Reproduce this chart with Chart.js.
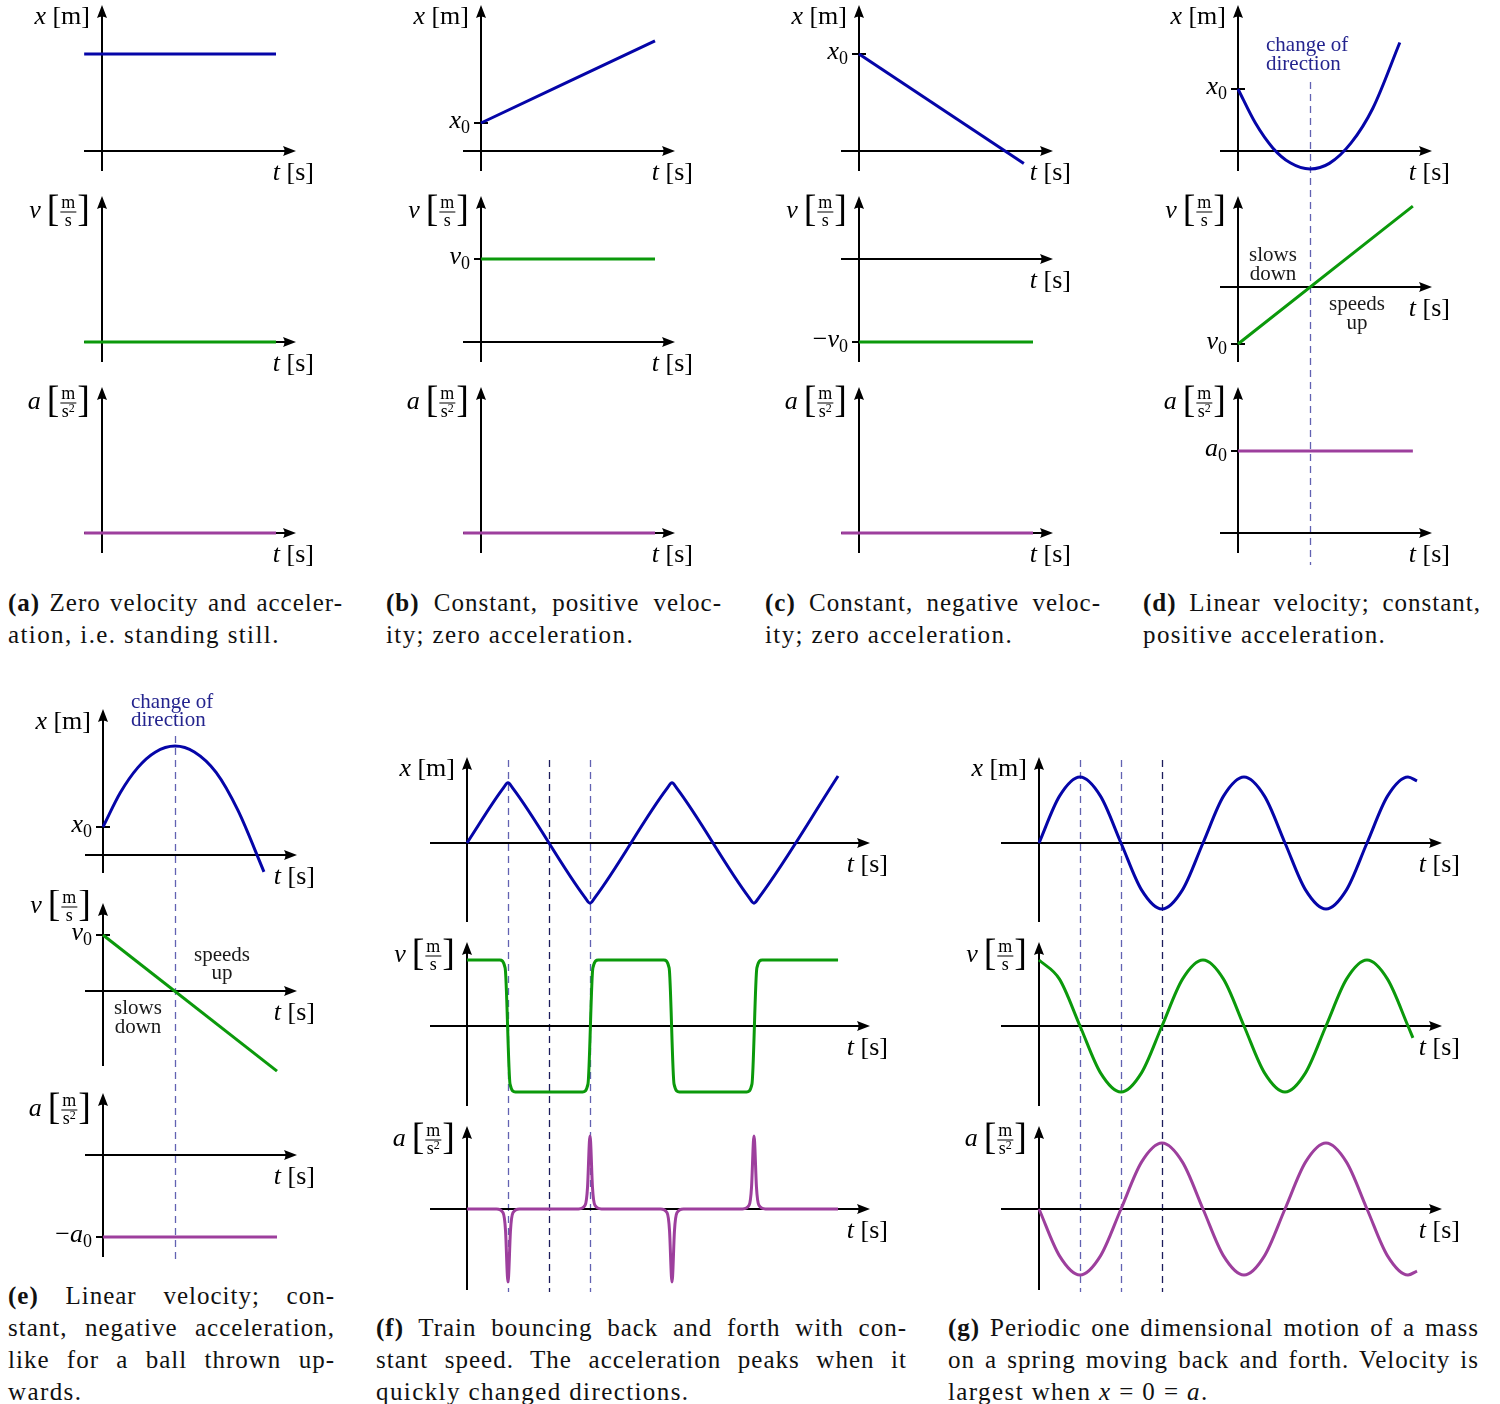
<!DOCTYPE html>
<html><head><meta charset="utf-8">
<script src="https://cdn.jsdelivr.net/npm/chart.js@4.4.1/dist/chart.umd.min.js"></script>
<style>
html,body{margin:0;padding:0;background:#fff;}
#page{position:relative;width:1500px;height:1404px;overflow:hidden;background:#fff;}
.cap{position:absolute;font-family:"Liberation Serif","Times New Roman",serif;font-size:25px;letter-spacing:1px;line-height:32px;color:#111;}
.cap div{text-align:justify;text-align-last:justify;}
.cap div.last{text-align:left;text-align-last:left;letter-spacing:1.4px;}
</style></head>
<body><div id="page"></div>
<script>
// ================= DATA =================
// (a) standing still
const tA = [-0.41, 4.0];
const xA = [1, 1];
const vA = [0, 0];
const aA = [0, 0];
// (b) constant positive velocity
const tBx = [0, 4.0];   const xB = [1, 3.93];
const tBv = [0, 4.0];   const vB = [1, 1];
const tBa = [-0.41, 4.0]; const aB = [0, 0];
// (c) constant negative velocity
const tCx = [0, 3.79];  const xC = [1, -0.13];
const tCv = [0, 4.0];   const vC = [-1, -1];
const tCa = [-0.41, 4.0]; const aC = [0, 0];
// (d) constant positive acceleration
const tDx = [0, 0.4, 0.8, 1.2, 1.655, 2.1, 2.6, 3.1, 3.72];
const xD  = [1, 0.45, 0.05, -0.19, -0.29, -0.2, 0.13, 0.69, 1.75];
const tDv = [0, 4.02];  const vD = [-1, 1.42];
const tDa = [0, 4.02];  const aD = [1, 1];
const dTurn = [1.655];
// (e) constant negative acceleration
const tEx = [0, 0.4, 0.8, 1.2, 1.655, 2.1, 2.6, 3.1, 3.7];
const xE  = [1, 2.23, 3.12, 3.67, 3.89, 3.68, 2.95, 1.6, -0.6];
const tEv = [0, 4.0];   const vE = [1, -1.43];
const tEa = [0, 4.0];   const aE = [-1, -1];
const eTurn = [1.655];
// (f) train bouncing back and forth
const tFx = [0, 0.88, 1, 1.12, 2.88, 3, 3.12, 4.88, 5, 5.12, 6.88, 7, 7.12, 9.05];
const xF  = [0, 0.88, 0.97, 0.88, -0.88, -0.97, -0.88, 0.88, 0.97, 0.88, -0.88, -0.97, -0.88, 1.08];
const tFv = [0, 0.8, 0.93, 1.05, 1.18, 2.82, 2.95, 3.07, 3.2, 4.8, 4.93, 5.05, 5.18, 6.82, 6.95, 7.07, 7.2, 9.05];
const vF  = [1, 1, 0.88, -0.88, -1, -1, -0.88, 0.88, 1, 1, 0.88, -0.88, -1, -1, -0.88, 0.88, 1, 1];
const tFa = [0, 0.72, 0.88, 0.94, 0.985, 1, 1.015, 1.06, 1.12, 1.28,
             2.72, 2.88, 2.94, 2.985, 3, 3.015, 3.06, 3.12, 3.28,
             4.72, 4.88, 4.94, 4.985, 5, 5.015, 5.06, 5.12, 5.28,
             6.72, 6.88, 6.94, 6.985, 7, 7.015, 7.06, 7.12, 7.28, 9.05];
const aF  = [0, 0, -0.05, -0.3, -0.92, -1, -0.92, -0.3, -0.05, 0,
             0, 0.05, 0.3, 0.92, 1, 0.92, 0.3, 0.05, 0,
             0, -0.05, -0.3, -0.92, -1, -0.92, -0.3, -0.05, 0,
             0, 0.05, 0.3, 0.92, 1, 0.92, 0.3, 0.05, 0, 0];
const fMarks = [1, 2, 3];
// (g) mass on a spring
const tGx = [0, 0.5, 1, 1.5, 2, 2.5, 3, 3.5, 4, 4.5, 5, 5.5, 6, 6.5, 7, 7.5, 8, 8.5, 9, 9.22];
const xG  = [0, 0.71, 1, 0.71, 0, -0.71, -1, -0.71, 0, 0.71, 1, 0.71, 0, -0.71, -1, -0.71, 0, 0.71, 1, 0.94];
const tGv = [0, 0.5, 1, 1.5, 2, 2.5, 3, 3.5, 4, 4.5, 5, 5.5, 6, 6.5, 7, 7.5, 8, 8.5, 9, 9.12];
const vG  = [1, 0.71, 0, -0.71, -1, -0.71, 0, 0.71, 1, 0.71, 0, -0.71, -1, -0.71, 0, 0.71, 1, 0.71, 0, -0.18];
const tGa = [0, 0.5, 1, 1.5, 2, 2.5, 3, 3.5, 4, 4.5, 5, 5.5, 6, 6.5, 7, 7.5, 8, 8.5, 9, 9.22];
const aG  = [0, -0.71, -1, -0.71, 0, 0.71, 1, 0.71, 0, -0.71, -1, -0.71, 0, 0.71, 1, 0.71, 0, -0.71, -1, -0.94];
const gMarks = [1, 2, 3];

// ================= STYLE =================
const FONT = '"Liberation Serif","Times New Roman",serif';
const BLUE = '#0505a8', GREEN = '#0b990b', PURPLE = '#9d3f9d';
const DASH = '#6262b2', DASHDARK = '#1c1c5c', DIRC = '#24248e';
const LS = 26;   // label font size
const page = document.getElementById('page');

function fz(sz, it){ return (it ? 'italic ' : '') + sz + 'px ' + FONT; }
function runs(c, parts, x, base, align){
  let w = 0;
  parts.forEach(p => { c.font = fz(p.sz || LS, p.it); p.w = c.measureText(p.s).width; w += p.w; });
  let cx = align === 'right' ? x - w : align === 'center' ? x - w / 2 : x;
  c.textAlign = 'left'; c.textBaseline = 'alphabetic';
  parts.forEach(p => { c.font = fz(p.sz || LS, p.it); c.fillText(p.s, cx, base + (p.dy || 0)); cx += p.w; });
}
function arrow(c, x, y, up){
  c.save(); c.translate(x, y); if (up) c.rotate(-Math.PI / 2);
  c.beginPath(); c.moveTo(0, 0); c.lineTo(-13, -5); c.quadraticCurveTo(-10, 0, -13, 5); c.closePath(); c.fill();
  c.restore();
}
function yLabel(c, k, right, cy){
  if (k === 'x'){ runs(c, [{s:'x', it:1}, {s:' [m]'}], right, cy + 7, 'right'); return; }
  const sq = k === 'a';
  c.font = fz(38); const wb = c.measureText('[').width;
  c.font = fz(18); const wm = c.measureText('m').width, ws = c.measureText('s').width;
  c.font = fz(12); const w2 = sq ? c.measureText('2').width : 0;
  const fw = Math.max(wm, ws + w2) + 2;
  c.font = fz(LS, 1); const wsym = c.measureText(k).width;
  const gap = 6;
  let x = right - (wsym + gap + wb + 1 + fw + 1 + wb);
  c.textAlign = 'left'; c.textBaseline = 'alphabetic';
  c.font = fz(LS, 1); c.fillText(k, x, cy + 6); x += wsym + gap;
  c.font = fz(38); c.fillText('[', x, cy + 9); x += wb + 1;
  c.fillRect(x, cy - 0.5, fw, 1);
  c.font = fz(18); c.fillText('m', x + (fw - wm) / 2, cy - 4);
  const dx = x + (fw - ws - w2) / 2;
  c.fillText('s', dx, cy + 14);
  if (sq){ c.font = fz(12); c.fillText('2', dx + ws, cy + 9); }
  x += fw + 1;
  c.font = fz(38); c.fillText(']', x, cy + 9);
}

let pid = 0;
function plot(cfg){
  const [L, T, W, H] = cfg.box;
  const cv = document.createElement('canvas');
  cv.width = W; cv.height = H;
  cv.style.cssText = `position:absolute;left:${L}px;top:${T}px;width:${W}px;height:${H}px;`;
  page.appendChild(cv);
  const xmin = (L - cfg.ox) / cfg.sx, xmax = (L + W - cfg.ox) / cfg.sx;
  const ymax = (cfg.oy - T) / cfg.sy, ymin = (cfg.oy - T - H) / cfg.sy;
  const ax = cfg.ax;
  const deco = {
    id: 'deco' + (pid++),
    beforeDatasetsDraw(chart){
      const c = chart.ctx, xs = chart.scales.x, ys = chart.scales.y;
      const X0 = xs.getPixelForValue(0), Y0 = ys.getPixelForValue(0);
      c.save();
      (cfg.dashes || []).forEach(d => {
        const px = Math.round(xs.getPixelForValue(d.t)) + 0.5;
        const a = Math.max(d.y0 - T, 0), b = Math.min(d.y1 - T, H);
        if (b <= a) return;
        c.beginPath(); c.setLineDash([7, 5]); c.lineDashOffset = Math.max(0, T - d.y0) % 12;
        c.strokeStyle = d.color; c.lineWidth = 1.3; c.moveTo(px, a); c.lineTo(px, b); c.stroke();
      });
      c.setLineDash([]);
      c.strokeStyle = '#000'; c.fillStyle = '#000'; c.lineWidth = 2;
      c.beginPath(); c.moveTo(ax.xl - L, Y0); c.lineTo(ax.xr - L - 9, Y0); c.stroke();
      arrow(c, ax.xr - L, Y0, 0);
      c.beginPath(); c.moveTo(X0, ax.yb - T); c.lineTo(X0, ax.yt - T + 9); c.stroke();
      arrow(c, X0, ax.yt - T, 1);
      (cfg.ticks || []).forEach(tk => {
        const yy = ys.getPixelForValue(tk.v);
        c.beginPath(); c.moveTo(X0 - 7, yy); c.lineTo(X0 + 7, yy); c.stroke();
      });
      c.restore();
    },
    afterDatasetsDraw(chart){
      const c = chart.ctx, xs = chart.scales.x, ys = chart.scales.y;
      const X0 = xs.getPixelForValue(0), Y0 = ys.getPixelForValue(0);
      c.save(); c.fillStyle = '#000';
      yLabel(c, cfg.ylab.k, X0 - 12, cfg.ylab.cy - T);
      runs(c, [{s:'t', it:1}, {s:' [s]'}], ax.xr - L + 18, Y0 + 22 + 7, 'right');
      (cfg.ticks || []).forEach(tk => {
        const yy = ys.getPixelForValue(tk.v);
        const parts = (tk.neg ? [{s:'\u2212'}] : []).concat([{s:tk.sym, it:1}, {s:'0', sz:18, dy:5}]);
        runs(c, parts, X0 - 11, yy + 5, 'right');
      });
      (cfg.notes || []).forEach(n => {
        c.fillStyle = n.color || '#1a1a1a';
        n.lines.forEach((s, i) => runs(c, [{s, sz:21}], n.x - L, n.y[i] - T + 6, n.align || 'center'));
      });
      c.restore();
    }
  };
  new Chart(cv, {
    type: 'line',
    data: { datasets: cfg.series.map(s => ({
      data: s.t.map((t, i) => ({x: t, y: s.v[i]})),
      borderColor: s.c, borderWidth: 3, pointRadius: 0, fill: false, clip: false,
      tension: 0, cubicInterpolationMode: 'monotone', borderJoinStyle: 'round'
    })) },
    options: {
      responsive: false, animation: false, devicePixelRatio: 1, events: [],
      layout: { padding: 0 },
      plugins: { legend: {display: false}, tooltip: {enabled: false}, title: {display: false} },
      scales: {
        x: { type: 'linear', min: xmin, max: xmax, display: false },
        y: { type: 'linear', min: ymin, max: ymax, display: false }
      }
    },
    plugins: [deco]
  });
}

// ================= LAYOUT =================
const SX = 43.5, SXF = 41;
const YL = [17, 212, 403];
function topBox(ox, k){ const L = ox - 102; return [L, 191 * k, Math.min(379, 1500 - L), 191]; }
function topAx(ox, k){ return {xl: ox - 18, xr: ox + 194, yt: 5 + 191 * k, yb: 171 + 191 * k}; }
const KEYS = ['x', 'v', 'a'];
function topPlot(ox, k, oy, sy, t, v, c, extra){
  plot(Object.assign({box: topBox(ox, k), ox, oy, sx: SX, sy, series: [{t, v, c}], ax: topAx(ox, k), ylab: {k: KEYS[k], cy: YL[k]}}, extra || {}));
}
// (a)
topPlot(102, 0, 151, 97, tA, xA, BLUE);
topPlot(102, 1, 342, 80, tA, vA, GREEN);
topPlot(102, 2, 533, 80, tA, aA, PURPLE);
// (b)
topPlot(481, 0, 151, 28, tBx, xB, BLUE, {ticks: [{v: 1, sym: 'x'}]});
topPlot(481, 1, 342, 83, tBv, vB, GREEN, {ticks: [{v: 1, sym: 'v'}]});
topPlot(481, 2, 533, 80, tBa, aB, PURPLE);
// (c)
topPlot(859, 0, 151, 97, tCx, xC, BLUE, {ticks: [{v: 1, sym: 'x'}]});
topPlot(859, 1, 259, 83, tCv, vC, GREEN, {ticks: [{v: -1, sym: 'v', neg: 1}]});
topPlot(859, 2, 533, 80, tCa, aC, PURPLE);
// (d)
const dDash = dTurn.map(t => ({t, y0: 82, y1: 565, color: DASH}));
topPlot(1238, 0, 151, 62, tDx, xD, BLUE, {ticks: [{v: 1, sym: 'x'}], dashes: dDash,
  notes: [{lines: ['change of', 'direction'], x: 1266, y: [45, 64], color: DIRC, align: 'left'}]});
topPlot(1238, 1, 287, 57, tDv, vD, GREEN, {ticks: [{v: -1, sym: 'v'}], dashes: dDash,
  notes: [{lines: ['slows', 'down'], x: 1273, y: [255, 274]}, {lines: ['speeds', 'up'], x: 1357, y: [304, 323]}]});
topPlot(1238, 2, 533, 82, tDa, aD, PURPLE, {ticks: [{v: 1, sym: 'a'}], dashes: dDash});

// (e)
const eDash = eTurn.map(t => ({t, y0: 736, y1: 1260, color: DASH}));
plot({box: [0, 685, 345, 205], ox: 103, oy: 855, sx: SX, sy: 28, series: [{t: tEx, v: xE, c: BLUE}],
  ax: {xl: 85, xr: 297, yt: 709, yb: 873}, ylab: {k: 'x', cy: 722}, ticks: [{v: 1, sym: 'x'}], dashes: eDash,
  notes: [{lines: ['change of', 'direction'], x: 131, y: [702, 720], color: DIRC, align: 'left'}]});
plot({box: [0, 890, 345, 190], ox: 103, oy: 991, sx: SX, sy: 56, series: [{t: tEv, v: vE, c: GREEN}],
  ax: {xl: 85, xr: 297, yt: 903, yb: 1066}, ylab: {k: 'v', cy: 907}, ticks: [{v: 1, sym: 'v'}], dashes: eDash,
  notes: [{lines: ['speeds', 'up'], x: 222, y: [955, 973]}, {lines: ['slows', 'down'], x: 138, y: [1008, 1027]}]});
plot({box: [0, 1080, 345, 190], ox: 103, oy: 1155, sx: SX, sy: 82, series: [{t: tEa, v: aE, c: PURPLE}],
  ax: {xl: 85, xr: 297, yt: 1093, yb: 1257}, ylab: {k: 'a', cy: 1110}, ticks: [{v: -1, sym: 'a', neg: 1}], dashes: eDash});

// (f)
const fCols = [DASH, DASHDARK, DASH];
const fDash = fMarks.map((t, i) => ({t, y0: 760, y1: 1292, color: fCols[i]}));
plot({box: [372, 750, 536, 183], ox: 467, oy: 843, sx: SXF, sy: 62, series: [{t: tFx, v: xF, c: BLUE}],
  ax: {xl: 430, xr: 870, yt: 757, yb: 922}, ylab: {k: 'x', cy: 769}, dashes: fDash});
plot({box: [372, 933, 536, 183], ox: 467, oy: 1026, sx: SXF, sy: 66, series: [{t: tFv, v: vF, c: GREEN}],
  ax: {xl: 430, xr: 870, yt: 942, yb: 1106}, ylab: {k: 'v', cy: 956}, dashes: fDash});
plot({box: [372, 1116, 536, 188], ox: 467, oy: 1209, sx: SXF, sy: 73, series: [{t: tFa, v: aF, c: PURPLE}],
  ax: {xl: 430, xr: 870, yt: 1126, yb: 1290}, ylab: {k: 'a', cy: 1140}, dashes: fDash});

// (g)
const gCols = [DASH, DASH, DASHDARK];
const gDash = gMarks.map((t, i) => ({t, y0: 760, y1: 1292, color: gCols[i]}));
plot({box: [942, 750, 558, 183], ox: 1039, oy: 843, sx: SXF, sy: 66, series: [{t: tGx, v: xG, c: BLUE}],
  ax: {xl: 1001, xr: 1442, yt: 757, yb: 922}, ylab: {k: 'x', cy: 769}, dashes: gDash});
plot({box: [942, 933, 558, 183], ox: 1039, oy: 1026, sx: SXF, sy: 66, series: [{t: tGv, v: vG, c: GREEN}],
  ax: {xl: 1001, xr: 1442, yt: 942, yb: 1106}, ylab: {k: 'v', cy: 956}, dashes: gDash});
plot({box: [942, 1116, 558, 188], ox: 1039, oy: 1209, sx: SXF, sy: 66, series: [{t: tGa, v: aG, c: PURPLE}],
  ax: {xl: 1001, xr: 1442, yt: 1126, yb: 1290}, ylab: {k: 'a', cy: 1140}, dashes: gDash});

// ================= CAPTIONS =================
const captions = [
  {x: 8, y: 587, w: 335, lines: ['<b>(a)</b> Zero velocity and acceler-', 'ation, i.e. standing still.']},
  {x: 386, y: 587, w: 336, lines: ['<b>(b)</b> Constant, positive veloc-', 'ity; zero acceleration.']},
  {x: 765, y: 587, w: 336, lines: ['<b>(c)</b> Constant, negative veloc-', 'ity; zero acceleration.']},
  {x: 1143, y: 587, w: 338, lines: ['<b>(d)</b> Linear velocity; constant,', 'positive acceleration.']},
  {x: 8, y: 1280, w: 327, lines: ['<b>(e)</b> Linear velocity; con-', 'stant, negative acceleration,', 'like for a ball thrown up-', 'wards.']},
  {x: 376, y: 1312, w: 531, lines: ['<b>(f)</b> Train bouncing back and forth with con-', 'stant speed. The acceleration peaks when it', 'quickly changed directions.']},
  {x: 948, y: 1312, w: 531, lines: ['<b>(g)</b> Periodic one dimensional motion of a mass', 'on a spring moving back and forth. Velocity is', 'largest when <i>x</i> = 0 = <i>a</i>.']}
];
captions.forEach(cp => {
  const d = document.createElement('div');
  d.className = 'cap';
  d.style.cssText = `left:${cp.x}px;top:${cp.y}px;width:${cp.w}px;`;
  d.innerHTML = cp.lines.map((l, i) => `<div class="${i === cp.lines.length - 1 ? 'last' : ''}">${l}</div>`).join('');
  page.appendChild(d);
});
</script>
</body></html>
